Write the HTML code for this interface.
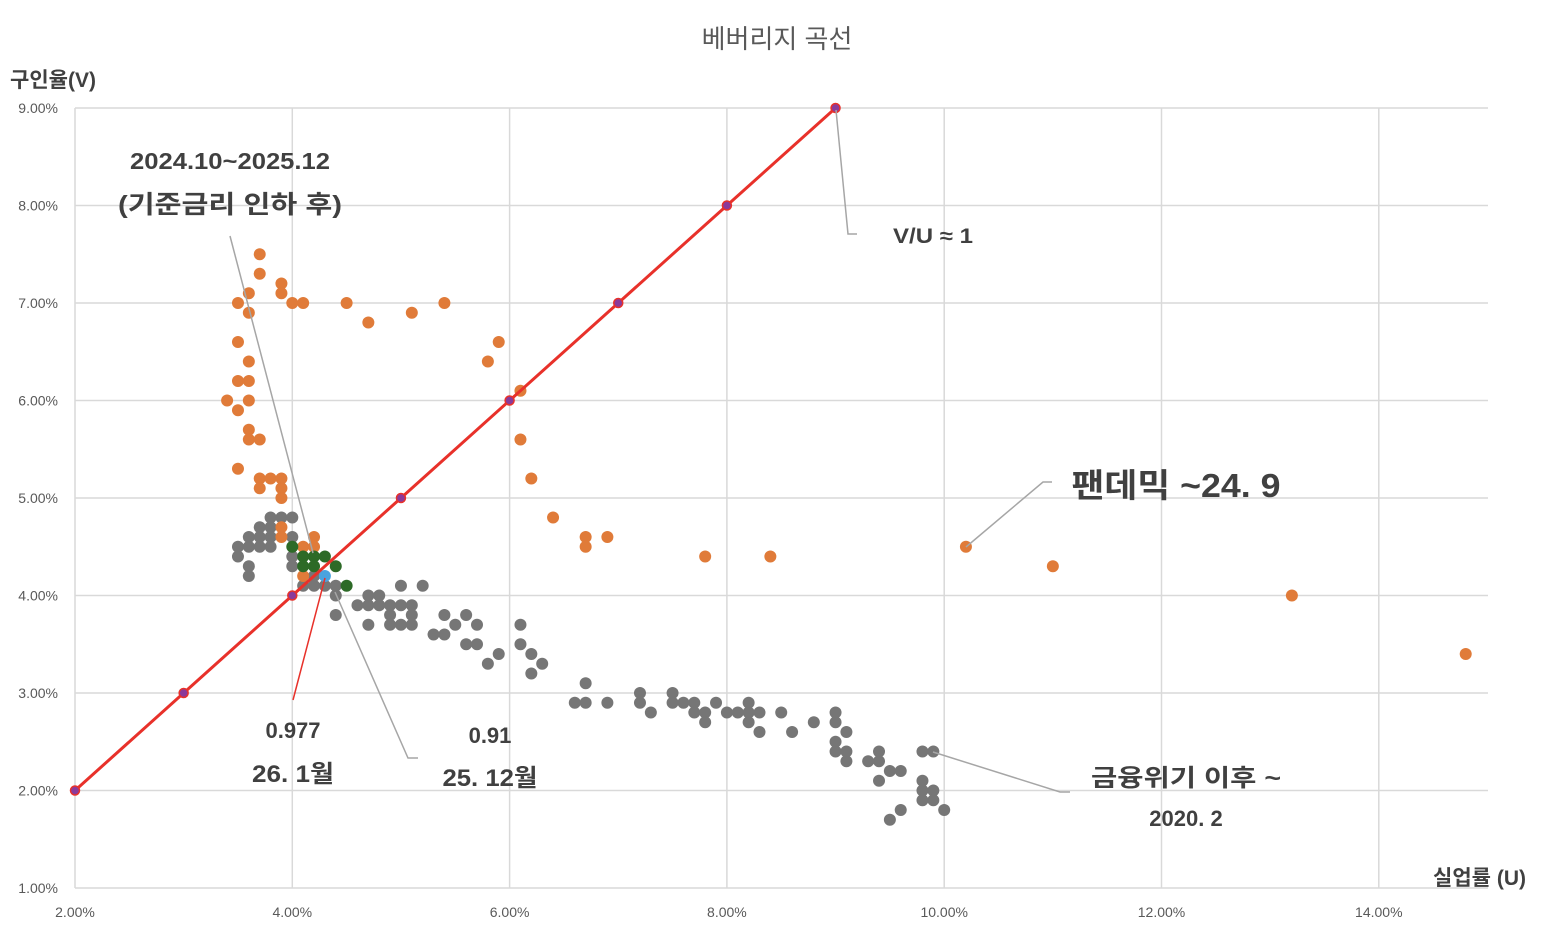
<!DOCTYPE html>
<html><head><meta charset="utf-8">
<style>
html,body{margin:0;padding:0;background:#fff;}
svg{display:block;font-family:"Liberation Sans","Noto Sans CJK KR",sans-serif;}
</style></head>
<body>
<svg id="chart" width="1554" height="926" viewBox="0 0 1554 926" xmlns="http://www.w3.org/2000/svg">
<text x="777" y="48" text-anchor="middle" font-size="26" fill="#595959">베버리지 곡선</text>
<text x="10" y="87" font-size="21" font-weight="bold" fill="#404040">구인율(V)</text>
<text x="1526" y="885" text-anchor="end" font-size="21" font-weight="bold" fill="#404040">실업률 (U)</text>
<g id="grid"></g>
<g id="ticks"></g>
<g id="marks"></g>
<g id="ann">
<polyline points="230,236 313,553" fill="none" stroke="#a6a6a6" stroke-width="1.5"/>
<polyline points="836,110 848,234 857,234" fill="none" stroke="#a6a6a6" stroke-width="1.5"/>
<polyline points="966,547 1043,482 1052,482" fill="none" stroke="#a6a6a6" stroke-width="1.5"/>
<polyline points="933,752 1060,792 1070,792" fill="none" stroke="#a6a6a6" stroke-width="1.5"/>
<polyline points="335,592 408,758 418,758" fill="none" stroke="#a6a6a6" stroke-width="1.5"/>
<polyline points="325,578 293,700" fill="none" stroke="#e8312a" stroke-width="1.5"/>
<g font-weight="bold" fill="#404040" text-anchor="middle">
<text x="230" y="169" font-size="23" textLength="200" lengthAdjust="spacingAndGlyphs">2024.10~2025.12</text>
<text x="230" y="213" font-size="25" textLength="224" lengthAdjust="spacingAndGlyphs">(기준금리 인하 후)</text>
<text x="933" y="243" font-size="21" textLength="80" lengthAdjust="spacingAndGlyphs">V/U ≈ 1</text>
<text x="1176" y="497" font-size="33" textLength="209" lengthAdjust="spacingAndGlyphs">팬데믹 ~24. 9</text>
<text x="1186" y="786" font-size="24" textLength="190" lengthAdjust="spacingAndGlyphs">금융위기 이후 ~</text>
<text x="1186" y="826" font-size="22">2020. 2</text>
<text x="490" y="743" font-size="22">0.91</text>
<text x="490" y="786" font-size="24" textLength="95" lengthAdjust="spacingAndGlyphs">25. 12월</text>
<text x="293" y="738" font-size="22">0.977</text>
<text x="293" y="782" font-size="24" textLength="82" lengthAdjust="spacingAndGlyphs">26. 1월</text>
</g>
</g>
</svg>
<script>
const xTicks=[2,4,6,8,10,12,14];
const yTicks=[1,2,3,4,5,6,7,8,9];
const pandemicU=[3.7,3.7,3.9,3.6,3.9,3.5,4.0,4.1,4.5,5.4,3.6,5.1,4.7,3.5,5.9,3.6,5.8,3.5,3.6,3.4,3.6,6.1,3.5,3.6,3.6,3.7,6.1,3.5,3.7,3.8,3.9,6.2,3.7,3.9,3.9,6.4,3.9,3.9,4.2,4.1,4.2,4.1,6.7,6.7,6.9,7.8,8.4,10.2,11.0,13.2,14.8];
const pandemicV=[7.5,7.3,7.2,7.1,7.1,7.0,7.0,7.0,7.0,7.0,6.9,6.9,6.8,6.6,6.6,6.4,6.4,6.2,6.2,6.0,6.0,6.1,5.9,5.7,5.6,5.6,5.6,5.3,5.2,5.2,5.2,5.2,5.1,5.1,5.0,4.8,4.7,4.6,4.6,4.5,4.5,4.2,4.6,4.5,4.6,4.4,4.4,4.5,4.3,4.0,3.4];
const gfcU=[3.8,3.9,4.0,3.7,3.8,3.6,3.7,3.8,4.0,3.5,3.6,3.7,3.8,3.5,4.0,3.6,4.0,3.6,4.2,4.1,4.2,4.3,4.4,4.4,4.4,5.0,5.2,4.7,4.8,4.6,4.7,4.8,4.9,5.0,5.1,4.9,5.1,4.7,4.9,5.0,5.1,5.4,5.6,5.5,5.7,6.1,5.3,5.4,5.6,5.7,6.1,5.9,6.2,5.8,6.3,6.2,6.7,6.6,6.7,6.9,7.2,7.5,7.6,7.7,7.9,8.2,7.2,7.5,7.3,7.7,7.8,8.0,8.1,8.2,8.3,8.5,7.8,8.2,8.8,9.0,9.0,8.3,8.6,9.1,9.0,9.0,9.1,9.4,9.8,9.9,9.1,9.3,9.4,9.5,9.6,9.4,9.8,9.8,9.9,9.8,9.9,9.6,10.0,9.5];
const gfcV=[4.8,4.8,4.8,4.7,4.7,4.6,4.6,4.6,4.6,4.5,4.5,4.5,4.5,4.4,4.4,4.3,4.3,4.2,4.2,4.1,4.1,4.1,4.1,4.0,3.8,4.1,4.1,4.0,4.0,3.9,3.9,3.9,3.9,3.9,3.9,3.8,3.8,3.7,3.7,3.7,3.7,3.8,3.8,3.7,3.7,3.7,3.6,3.6,3.5,3.5,3.5,3.4,3.4,3.3,3.3,3.2,3.1,2.9,2.9,2.9,2.9,2.9,2.9,2.9,2.9,2.9,3.0,3.0,2.8,2.8,2.8,2.8,2.8,2.8,2.8,2.8,2.7,2.7,2.7,2.8,2.7,2.6,2.6,2.6,2.5,2.4,2.4,2.4,2.4,2.4,2.3,2.3,2.3,2.2,2.2,2.1,2.1,2.0,2.0,1.9,1.9,1.8,1.8,1.7];
const cutU=[4.0,4.1,4.2,4.3,4.1,4.2,4.4,4.5];
const cutV=[4.5,4.4,4.4,4.4,4.3,4.3,4.3,4.1];
const latestU=[4.3];
const latestV=[4.2];
const refU=[2,3,4,5,6,7,8,9];
const refV=[2,3,4,5,6,7,8,9];

const NS="http://www.w3.org/2000/svg";
const X=u=>75+(u-2)*108.65;
const Y=v=>888-(v-1)*97.5;
function mk(tag,attrs,parent){const e=document.createElementNS(NS,tag);for(const k in attrs)e.setAttribute(k,attrs[k]);parent.appendChild(e);return e;}
const grid=document.getElementById('grid'),ticks=document.getElementById('ticks'),marks=document.getElementById('marks');
yTicks.forEach(t=>{
  const l=mk('line',{x1:75,x2:1488,y1:Y(t),y2:Y(t),stroke:'#d9d9d9','stroke-width':1.5},grid);
  
  
  const tx=mk('text',{x:58,y:Y(t)+5,'text-anchor':'end','font-size':14,fill:'#595959'},ticks);
  tx.textContent=t.toFixed(2)+'%';
  
  
});
xTicks.forEach(t=>{
  const l=mk('line',{x1:X(t),x2:X(t),y1:108,y2:888,stroke:'#d9d9d9','stroke-width':1.5},grid);
  
  
  const tx=mk('text',{x:X(t),y:917,'text-anchor':'middle','font-size':14,fill:'#595959'},ticks);
  tx.textContent=t.toFixed(2)+'%';
  
  
});
function dots(us,vs,color,name){
  us.forEach((u,i)=>{
    const c=mk('circle',{cx:X(u),cy:Y(vs[i]),r:6,fill:color},marks);
    
    
  });
}
dots(gfcU,gfcV,'#767676','gfc-point');
dots(pandemicU,pandemicV,'#e07b39','pandemic-point');
dots(cutU,cutV,'#2d6a27','rate-cut-point');
dots(latestU,latestV,'#4aa3df','latest-point');
const pts=refU.map((u,i)=>X(u)+','+Y(refV[i])).join(' ');
const line=mk('polyline',{points:pts,fill:'none',stroke:'#e8312a','stroke-width':3},marks);


refU.forEach((u,i)=>{
  const c=mk('circle',{cx:X(u),cy:Y(refV[i]),r:4.5,fill:'#8a3a9a',stroke:'#e8312a','stroke-width':1.5},marks);
  
  
});
</script>
</body></html>
